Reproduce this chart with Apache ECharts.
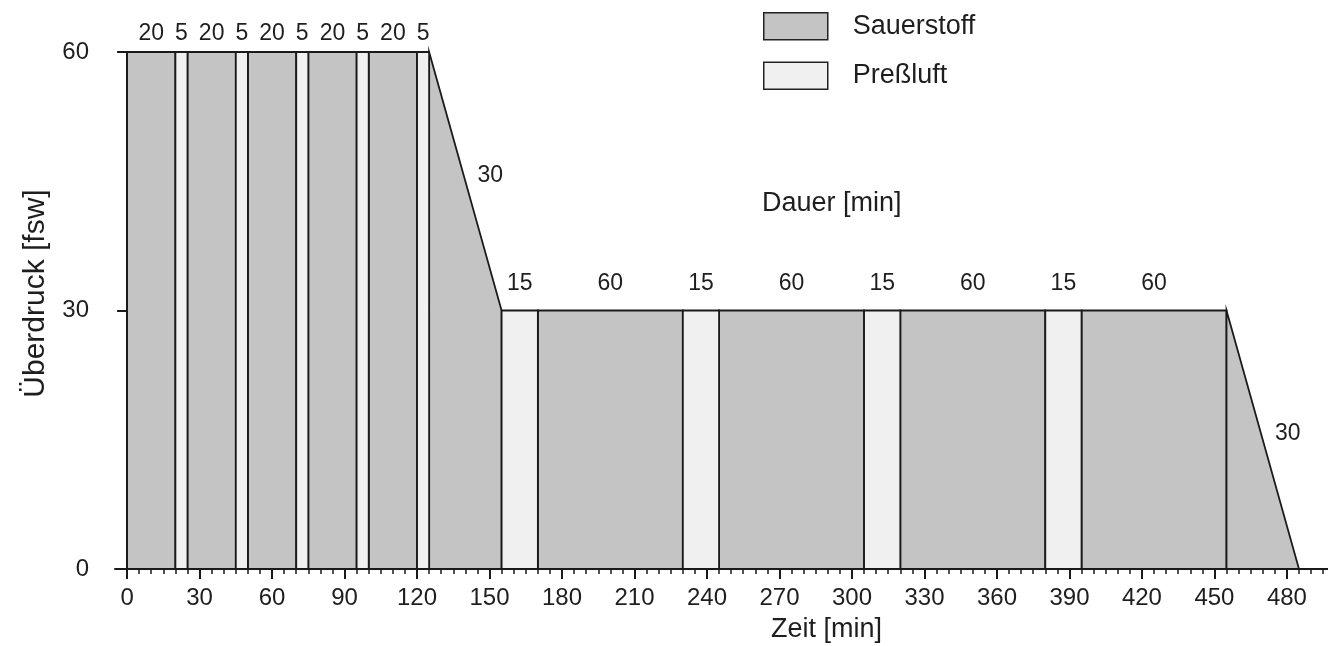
<!DOCTYPE html>
<html>
<head>
<meta charset="utf-8">
<script src="https://cdn.jsdelivr.net/npm/echarts@6/dist/echarts.min.js"></script>
<style>
  html, body { margin: 0; padding: 0; background: #ffffff; }
  #chart { width: 1328px; height: 646px; }
</style>
</head>
<body>
<div id="chart"></div>
<script>
// ---- Data ----
const durations   = [20, 5, 20, 5, 20, 5, 20, 5, 20, 5, 30, 15, 60, 15, 60, 15, 60, 15, 60, 30];
const gases       = ['O2','Air','O2','Air','O2','Air','O2','Air','O2','Air','O2','Air','O2','Air','O2','Air','O2','Air','O2','O2'];
const startDepths = [60, 60, 60, 60, 60, 60, 60, 60, 60, 60, 60, 30, 30, 30, 30, 30, 30, 30, 30, 30];
const endDepths   = [60, 60, 60, 60, 60, 60, 60, 60, 60, 60, 30, 30, 30, 30, 30, 30, 30, 30, 30, 0];
const xTickLabels = [0, 30, 60, 90, 120, 150, 180, 210, 240, 270, 300, 330, 360, 390, 420, 450, 480];
const yTickLabels = [0, 30, 60];
const gasNames = { O2: 'Sauerstoff', Air: 'Preßluft' };

// ---- Build segments ----
const segO2 = [], segAir = [];
let t = 0;
durations.forEach(function (d, i) {
  const item = [t, t + d, startDepths[i], endDepths[i], d];
  (gases[i] === 'O2' ? segO2 : segAir).push(item);
  t += d;
});
const minorTicks = [];
for (let v = 0; v <= 495; v += 5) minorTicks.push(v);

const FONT = '"Liberation Sans", Arial, Helvetica, sans-serif';
const TXT = '#1e1e1e';
const O2_COLOR = '#c4c4c4';
const AIR_COLOR = '#f0f0f0';

function makeRender(fill) {
  return function (params, api) {
    const t0 = api.value(0), t1 = api.value(1), d0 = api.value(2), d1 = api.value(3);
    const a = api.coord([t0, 0]), b = api.coord([t0, d0]), c = api.coord([t1, d1]), e = api.coord([t1, 0]);
    let lx, ly;
    if (d0 === d1) {
      lx = (b[0] + c[0]) / 2; ly = b[1] - (d0 >= 60 ? 18 : 27);
    } else {
      lx = (b[0] + c[0]) / 2 + 25; ly = (b[1] + c[1]) / 2 - 6;
    }
    return {
      type: 'group',
      children: [
        {
          type: 'polygon',
          shape: { points: [a, b, c, e] },
          style: { fill: fill, stroke: '#1a1a1a', lineWidth: 1.8, lineJoin: 'miter' }
        },
        {
          type: 'text',
          x: lx, y: ly,
          style: {
            text: String(api.value(4)),
            font: '23px ' + FONT,
            fill: TXT,
            align: 'center',
            verticalAlign: 'middle'
          },
          z2: 10
        }
      ]
    };
  };
}

const chart = echarts.init(document.getElementById('chart'), null, { renderer: 'canvas' });
chart.setOption({
  animation: false,
  backgroundColor: '#ffffff',
  textStyle: { fontFamily: FONT, color: TXT },
  title: {
    text: 'Dauer [min]',
    left: 757, top: 185,
    textStyle: { fontFamily: FONT, fontSize: 27, fontWeight: 'normal', color: TXT }
  },
  legend: {
    orient: 'vertical',
    left: 763, top: 12, padding: 0,
    itemWidth: 64, itemHeight: 27, itemGap: 21,
    icon: 'rect',
    itemStyle: { borderColor: '#222', borderWidth: 1.5 },
    textStyle: { fontFamily: FONT, fontSize: 27, color: TXT, lineHeight: 27, padding: [0, 0, 0, 20] },
    data: ['Sauerstoff', 'Preßluft']
  },
  grid: { left: 115, right: 0, top: 52, bottom: 77, containLabel: false, outerBoundsMode: 'none' },
  xAxis: [
    {
      type: 'value', min: -5, max: 497, position: 'bottom',
      name: 'Zeit [min]', nameLocation: 'middle', nameGap: 47,
      nameTextStyle: { fontFamily: FONT, fontSize: 27, color: TXT, padding: [0, 0, 0, 210] },
      axisLine: { show: true, lineStyle: { color: '#1a1a1a', width: 2 } },
      axisTick: { show: true, length: 10, lineStyle: { color: '#1a1a1a', width: 2 }, customValues: xTickLabels },
      axisLabel: { fontFamily: FONT, fontSize: 24, color: TXT, margin: 17, customValues: xTickLabels },
      splitLine: { show: false }
    },
    {
      type: 'value', min: -5, max: 497, position: 'bottom',
      axisLine: { show: false },
      axisTick: { show: true, length: 5, lineStyle: { color: '#1a1a1a', width: 1.5 }, customValues: minorTicks },
      axisLabel: { show: false },
      splitLine: { show: false }
    }
  ],
  yAxis: {
    type: 'value', min: 0, max: 60,
    name: 'Überdruck [fsw]', nameLocation: 'middle', nameGap: 64, nameRotate: 90,
    nameTextStyle: { fontFamily: FONT, fontSize: 30, color: TXT, padding: [0, 0, 0, 34] },
    axisLine: { show: true, lineStyle: { color: '#1a1a1a', width: 2 } },
    axisTick: { show: true, length: 10, lineStyle: { color: '#1a1a1a', width: 2 }, customValues: yTickLabels },
    axisLabel: { fontFamily: FONT, fontSize: 24, color: TXT, margin: 26, customValues: yTickLabels },
    splitLine: { show: false }
  },
  series: [
    {
      name: gasNames.O2, type: 'custom', xAxisIndex: 0,
      itemStyle: { color: O2_COLOR },
      renderItem: makeRender(O2_COLOR),
      encode: { x: [0, 1], y: [2, 3] },
      data: segO2, clip: false
    },
    {
      name: gasNames.Air, type: 'custom', xAxisIndex: 0,
      itemStyle: { color: AIR_COLOR },
      renderItem: makeRender(AIR_COLOR),
      encode: { x: [0, 1], y: [2, 3] },
      data: segAir, clip: false
    }
  ]
});
</script>
</body>
</html>
